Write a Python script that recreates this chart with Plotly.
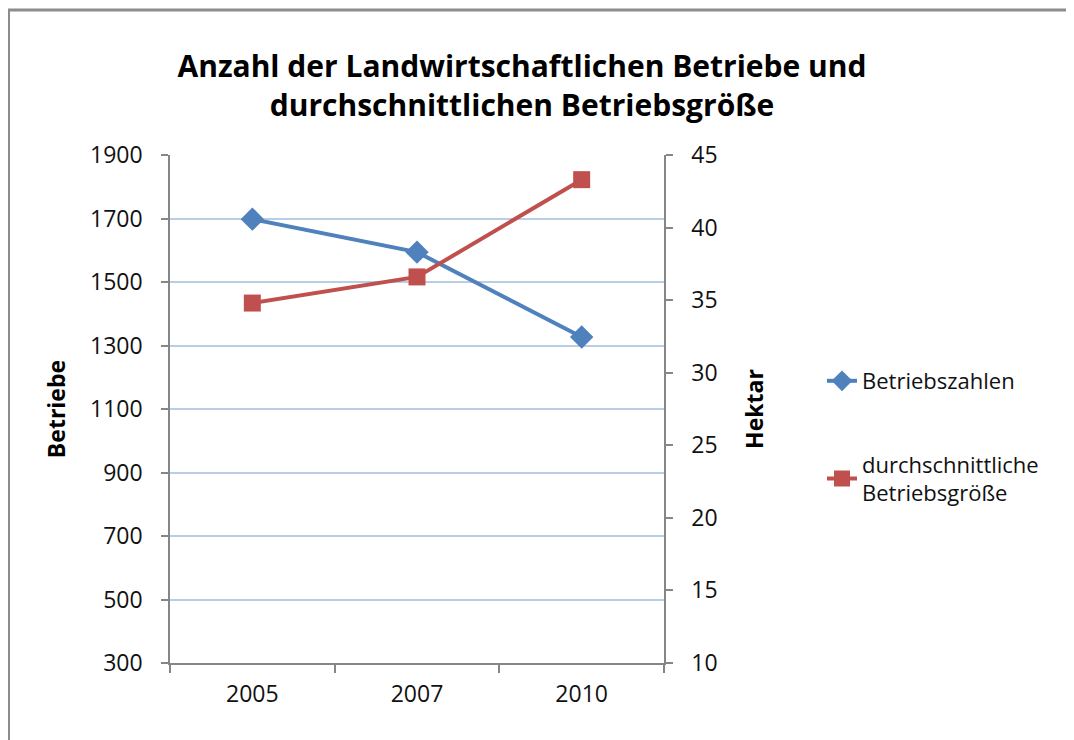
import plotly.graph_objects as go

years = ["2005", "2007", "2010"]
betriebe = [1698, 1594, 1327]
hektar = [34.8, 36.6, 43.3]

blue = "#4F81BD"
red = "#C0504D"
axis_gray = "#868686"
font = "Open Sans"

# the page has an 8px body margin, so work in figure pixels = screen - 8
OFF = 8
W, H = 1066, 732
L, R, T, B = 170 - OFF, 664 - OFF, 155 - OFF, 663 - OFF
pw, ph = R - L, B - T


def px_x(p):
    return (p - OFF - L) / pw


def px_y(p):
    return (B - (p - OFF)) / ph


fig = go.Figure()

fig.add_trace(go.Scatter(
    x=years, y=betriebe, name="Betriebszahlen",
    mode="lines+markers",
    line=dict(color=blue, width=4),
    marker=dict(symbol="diamond", size=18, color=blue),
    legend="legend",
))
fig.add_trace(go.Scatter(
    x=years, y=hektar, name="durchschnittliche<br>Betriebsgröße",
    mode="lines+markers", yaxis="y2",
    line=dict(color=red, width=4),
    marker=dict(symbol="square", size=17, color=red),
    legend="legend2",
))

fig.update_layout(
    width=W, height=H,
    margin=dict(l=L, r=W - R, t=T, b=H - B, pad=0),
    paper_bgcolor="white", plot_bgcolor="white",
    font=dict(family=font, size=22, color="#000000"),
    title=dict(
        text="<b>Anzahl der Landwirtschaftlichen Betriebe und<br>durchschnittlichen Betriebsgröße</b>",
        x=(522 - OFF) / W, xanchor="center", y=1 - (77 - OFF) / H, yanchor="middle",
        font=dict(family=font, size=30, color="#000000"),
    ),
    xaxis=dict(
        type="category", range=[-0.5, 2.5],
        showline=True, linecolor=axis_gray, linewidth=1.5,
        ticks="outside", ticklen=8, tickcolor=axis_gray, tickwidth=1.5,
        tickson="boundaries", showgrid=False, zeroline=False,
        tickfont=dict(size=23, color="#111111"),
        ticklabelstandoff=10,
    ),
    yaxis=dict(
        range=[300, 1900], tick0=300, dtick=200,
        showline=True, linecolor=axis_gray, linewidth=1.5,
        ticks="outside", ticklen=7, tickcolor=axis_gray, tickwidth=1.5,
        showgrid=True, gridcolor="#B9CDE5", gridwidth=1.5, zeroline=False,
        tickfont=dict(size=23, color="#111111"),
        ticklabelstandoff=14,
        title=dict(text="<b>Betriebe</b>", standoff=18,
                   font=dict(size=23, color="#000000")),
    ),
    yaxis2=dict(
        range=[10, 45], dtick=5, overlaying="y", side="right",
        showline=True, linecolor=axis_gray, linewidth=1.5,
        ticks="outside", ticklen=7, tickcolor=axis_gray, tickwidth=1.5,
        showgrid=False, zeroline=False,
        tickfont=dict(size=23, color="#111111"),
        ticklabelstandoff=14,
        title=dict(text="<b>Hektar</b>", standoff=30,
                   font=dict(size=23, color="#000000")),
    ),
    legend=dict(
        x=px_x(822), y=px_y(381), xanchor="left", yanchor="middle",
        bgcolor="rgba(0,0,0,0)", font=dict(size=22, color="#111111"),
    ),
    legend2=dict(
        x=px_x(822), y=px_y(479), xanchor="left", yanchor="middle",
        bgcolor="rgba(0,0,0,0)", font=dict(size=22, color="#111111"),
    ),
    showlegend=True,
)

# outer chart frame (left and top edges visible)
fig.add_shape(type="line", xref="paper", yref="paper",
              x0=px_x(8.5), x1=px_x(8.5), y0=px_y(760), y1=px_y(10),
              line=dict(color="#8C8C8C", width=3))
fig.add_shape(type="line", xref="paper", yref="paper",
              x0=px_x(7), x1=px_x(1090), y0=px_y(10), y1=px_y(10),
              line=dict(color="#8C8C8C", width=3))

fig.write_html("out.html")
